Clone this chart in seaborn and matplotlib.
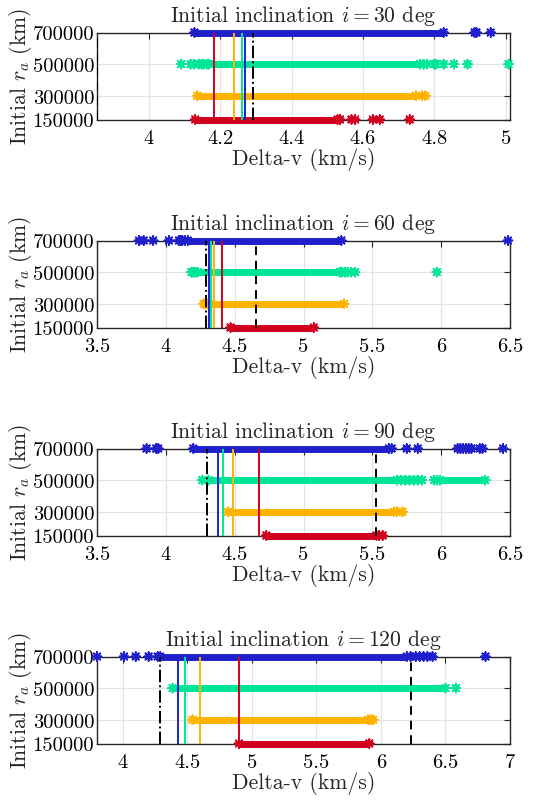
import numpy as np
import pandas as pd
import matplotlib
matplotlib.use("Agg")
import matplotlib.pyplot as plt
from matplotlib.ticker import MultipleLocator, FuncFormatter
import seaborn as sns

# Apoapsis radii of the initial orbits (km) and their colours
ra_levels = [150000, 300000, 500000, 700000]
ra_colors = {150000: "#d1001f", 300000: "#ffb300", 500000: "#00e699", 700000: "#1f1fcb"}

inclinations = [30, 60, 90, 120]

# Dense runs of solutions: (ra, start, end) in km/s
bands_30 = [(700000, 4.128, 4.826), (500000, 4.168, 4.760),
            (300000, 4.136, 4.748), (150000, 4.130, 4.529)]
bands_60 = [(700000, 4.160, 5.275), (500000, 4.230, 5.263),
            (300000, 4.325, 5.295), (150000, 4.470, 5.075)]
bands_90 = [(700000, 4.200, 5.620), (500000, 4.310, 5.680), (500000, 5.990, 6.320),
            (300000, 4.450, 5.660), (150000, 4.730, 5.530)]
bands_120 = [(700000, 4.290, 6.200), (500000, 4.385, 6.500),
             (300000, 4.540, 5.900), (150000, 4.900, 5.910)]

# Isolated solutions per apoapsis radius
pts_30 = {
    700000: [4.913, 4.918, 4.958],
    500000: [4.091, 4.117, 4.126, 4.140, 4.148, 4.155, 4.163, 4.770, 4.780,
             4.800, 4.805, 4.826, 4.855, 4.893, 5.008],
    300000: [4.765, 4.775],
    150000: [4.536, 4.568, 4.578, 4.628, 4.647, 4.731],
}
pts_60 = {
    700000: [3.805, 3.840, 3.908, 4.022, 4.095, 4.110, 4.120, 4.140, 6.485],
    500000: [4.186, 4.200, 4.212, 5.280, 5.300, 5.320, 5.345, 5.375, 5.968],
    300000: [4.275, 4.290, 4.300],
    150000: [],
}
pts_90 = {
    700000: [3.860, 3.930, 3.945, 5.640, 5.750, 5.830, 6.120, 6.140, 6.160,
             6.180, 6.200, 6.220, 6.280, 6.300, 6.450],
    500000: [4.265, 5.710, 5.740, 5.770, 5.800, 5.830, 5.860, 5.950, 5.970],
    300000: [5.680, 5.720],
    150000: [5.550, 5.575],
}
pts_120 = {
    700000: [3.800, 4.010, 4.100, 4.200, 4.270, 6.230, 6.270, 6.300, 6.330,
             6.360, 6.400, 6.810],
    500000: [6.580],
    300000: [5.920, 5.940],
    150000: [],
}

# Reference delta-v per apoapsis radius, plus the two bounds (km/s)
ref_30 = {150000: 4.183, 300000: 4.240, 500000: 4.261, 700000: 4.271}
ref_60 = {150000: 4.407, 300000: 4.348, 500000: 4.326, 700000: 4.316}
ref_90 = {150000: 4.678, 300000: 4.490, 500000: 4.417, 700000: 4.380}
ref_120 = {150000: 4.900, 300000: 4.600, 500000: 4.480, 700000: 4.430}
lower_bound = [4.292, 4.289, 4.298, 4.290]
upper_bound = [3.855, 4.655, 5.530, 6.230]

x_limits = [(3.855, 5.012), (3.5, 6.5), (3.5, 6.5), (3.8, 7.0)]
x_steps = [0.2, 0.5, 0.5, 0.5]

all_bands = [bands_30, bands_60, bands_90, bands_120]
all_pts = [pts_30, pts_60, pts_90, pts_120]
all_refs = [ref_30, ref_60, ref_90, ref_120]

sns.set_theme(style="white")
plt.rcParams["font.family"] = ["cmr10", "DejaVu Serif"]
plt.rcParams["mathtext.fontset"] = "cm"
plt.rcParams["axes.formatter.use_mathtext"] = True
plt.rcParams["axes.unicode_minus"] = False

W, H = 554, 804
fig = plt.figure(figsize=(W / 100, H / 100), dpi=100)

tops = [33.5, 241.5, 449.5, 657.5]
ax_h = 87.0
left, right = 97.0, 510.0

asterisk = (8, 2, 0)
fs_tick = 14.8
fs_lab = 15.6

for k, inc in enumerate(inclinations):
    ax = fig.add_axes([left / W, 1 - (tops[k] + ax_h) / H, (right - left) / W, ax_h / H])

    # dense runs as thick horizontal strokes with asterisk end caps
    rows = []
    for ra, s, e in all_bands[k]:
        ax.hlines(ra, s, e, colors=ra_colors[ra], linewidth=5.0, zorder=3, clip_on=False)
        rows += [(ra, s), (ra, e)]
    for ra, vals in all_pts[k].items():
        rows += [(ra, v) for v in vals]
    df = pd.DataFrame(rows, columns=["ra", "dv"])
    sns.scatterplot(data=df, x="dv", y="ra", hue="ra", palette=ra_colors,
                    marker=asterisk, s=40, linewidth=1.3, legend=False,
                    ax=ax, clip_on=False, zorder=3)

    # reference values per apoapsis radius
    for ra in ra_levels:
        ax.axvline(all_refs[k][ra], color=ra_colors[ra], linewidth=1.4, zorder=4)
    ax.axvline(lower_bound[k], color="black", linestyle="-.", linewidth=1.4, zorder=5)
    ax.axvline(upper_bound[k], color="black", linestyle=(0, (4.5, 3)), linewidth=1.4, zorder=5)

    ax.set_xlim(*x_limits[k])
    ax.set_ylim(150000, 700000)
    ax.set_yticks(ra_levels, labels=[str(v) for v in ra_levels])
    ax.xaxis.set_major_locator(MultipleLocator(x_steps[k]))
    ax.xaxis.set_major_formatter(FuncFormatter(lambda v, p: f"{v:g}"))

    ax.grid(True, color="#e3e3e3", linewidth=0.9)
    ax.set_axisbelow(True)
    for sp in ax.spines.values():
        sp.set_color("#262626")
        sp.set_linewidth(1.0)
    ax.tick_params(direction="in", length=4, width=0.8, top=True, right=True,
                   labelsize=fs_tick, colors="#262626", labelcolor="black")
    ax.tick_params(axis="x", pad=7)
    ax.tick_params(axis="y", pad=2)

    ax.set_title(rf"Initial inclination $i = {inc}$ deg", fontsize=fs_lab, pad=8)
    ax.set_xlabel("Delta-v (km/s)", fontsize=fs_lab, labelpad=0)
    ax.set_ylabel(r"Initial $r_a$ (km)", fontsize=fs_lab, labelpad=-1)

fig.savefig("out.png", dpi=100)
